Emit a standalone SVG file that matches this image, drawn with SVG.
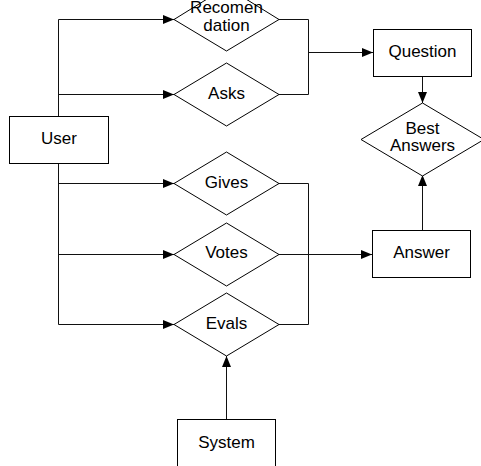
<svg xmlns="http://www.w3.org/2000/svg" width="481" height="466" viewBox="0 0 481 466">
<style>
.box{fill:#fff;stroke:#000;stroke-width:1}
.dia{fill:#fff;stroke:#000;stroke-width:1}
.t{font-family:"Liberation Sans",Arial,sans-serif;font-size:17px;fill:#000;text-anchor:middle}
.e{fill:none;stroke:#111;stroke-width:1}
</style>
<defs>
<marker id="ah" markerUnits="userSpaceOnUse" markerWidth="12" markerHeight="10" refX="11" refY="4.5" orient="auto">
<path d="M0,0 L11,4.5 L0,9 Z" fill="#000"/>
</marker>
</defs>
<rect width="481" height="466" fill="#fff"/>
<g id="connectors">
<path class="e" d="M58.5,116 V19.5 H174" marker-end="url(#ah)"/>
<path class="e" d="M58.5,94.5 H174" marker-end="url(#ah)"/>
<path class="e" d="M58.5,163 V183.5 H174" marker-end="url(#ah)"/>
<path class="e" d="M58.5,183 V254.5 H174" marker-end="url(#ah)"/>
<path class="e" d="M58.5,254 V324.5 H174" marker-end="url(#ah)"/>
<path class="e" d="M279,19.5 H308.5 V94.5 H279"/>
<path class="e" d="M308.5,52.5 H373" marker-end="url(#ah)"/>
<path class="e" d="M279,183.5 H308.5 V324.5 H279"/>
<path class="e" d="M279,254.5 H372" marker-end="url(#ah)"/>
<path class="e" d="M422.5,76 V103" marker-end="url(#ah)"/>
<path class="e" d="M422.5,230 V175" marker-end="url(#ah)"/>
<path class="e" d="M226.5,419 V356" marker-end="url(#ah)"/>
</g>
<g id="user"><rect class="box" x="9.5" y="116.5" width="99" height="47"/><text class="t" x="59" y="144">User</text></g>
<g id="recomendation"><polygon class="dia" points="226.5,-13 279,19.5 226.5,51 174,19.5"/><text class="t" x="226.5" y="13">Recomen</text><text class="t" x="226.5" y="31">dation</text></g>
<g id="asks"><polygon class="dia" points="226.5,63 279,94.5 226.5,126 174,94.5"/><text class="t" x="226.5" y="99">Asks</text></g>
<g id="gives"><polygon class="dia" points="226.5,152 279,183.5 226.5,215 174,183.5"/><text class="t" x="226.5" y="188">Gives</text></g>
<g id="votes"><polygon class="dia" points="226.5,223 279,254.5 226.5,286 174,254.5"/><text class="t" x="226.5" y="258">Votes</text></g>
<g id="evals"><polygon class="dia" points="226.5,293 279,324.5 226.5,356 174,324.5"/><text class="t" x="226.5" y="329">Evals</text></g>
<g id="question"><rect class="box" x="373.5" y="29.5" width="98" height="47"/><text class="t" x="422.5" y="57">Question</text></g>
<g id="best-answers"><polygon class="dia" points="422.5,103 484,139.5 422.5,176 361,139.5"/><text class="t" x="422.5" y="134">Best</text><text class="t" x="422.5" y="151">Answers</text></g>
<g id="answer"><rect class="box" x="372.5" y="230.5" width="98" height="47"/><text class="t" x="421.5" y="258">Answer</text></g>
<g id="system"><rect class="box" x="177.5" y="419.5" width="98" height="60"/><text class="t" x="226.5" y="448">System</text></g>
</svg>
